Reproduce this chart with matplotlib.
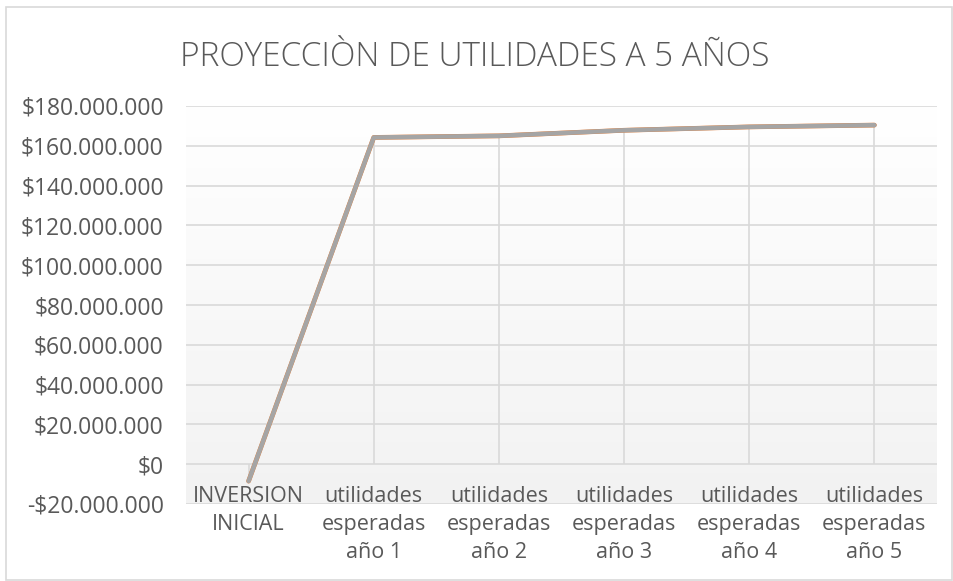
import numpy as np
import matplotlib
matplotlib.use("Agg")
import matplotlib.pyplot as plt
from matplotlib.patches import Rectangle
from matplotlib.ticker import FuncFormatter
import matplotlib.transforms as mtransforms

plt.rcParams['font.family'] = ['Open Sans', 'DejaVu Sans']

# datos del grafico
categorias = ["INVERSION\nINICIAL",
              "utilidades\nesperadas\naño 1",
              "utilidades\nesperadas\naño 2",
              "utilidades\nesperadas\naño 3",
              "utilidades\nesperadas\naño 4",
              "utilidades\nesperadas\naño 5"]
valores = [-8500000, 164200000, 165000000, 167800000, 169500000, 170400000]
yticks = list(range(-20000000, 180000001, 20000000))

TEXT = '#595959'
GRID = '#d9d9d9'


def pesos(v, pos=None):
    s = f"{abs(int(v)):,}".replace(",", ".")
    return ("-$" if v < 0 else "$") + s


fig = plt.figure(figsize=(9.54, 5.81), dpi=100)
fig.patch.set_facecolor('white')
fig.add_artist(Rectangle((6 / 954, 0.002), 946.5 / 954, 1 - 7 / 581 - 0.002,
                         transform=fig.transFigure, fill=False,
                         edgecolor=GRID, linewidth=1.2))

ax = fig.add_axes([186 / 954, 1 - 504 / 581, 751 / 954, 398 / 581])
x = np.arange(len(categorias))

ax.set_xlim(-0.5, len(categorias) - 0.5)
ax.set_ylim(yticks[0], yticks[-1])

# fondo degradado del area de trazado
grad = np.linspace(0, 1, 256).reshape(-1, 1)
cmap = matplotlib.colors.LinearSegmentedColormap.from_list('g', ['#f2f2f2', '#ffffff'])
ax.imshow(grad, extent=[-0.5, len(categorias) - 0.5, yticks[0], yticks[-1]],
          origin='lower', aspect='auto', cmap=cmap, zorder=0)

for t in yticks:
    ax.axhline(t, color=GRID, linewidth=1.2, zorder=1)

# lineas de caida desde cada punto hasta cero
ax.vlines(x, 0, valores, color=GRID, linewidth=1.2, zorder=1)

ax.plot(x, valores, color='#ed7d31', linewidth=3.4, zorder=2,
        solid_capstyle='round')
ax.plot(x, valores, color='#a5a5a5', linewidth=3.2, zorder=3,
        solid_capstyle='round')

for s in ax.spines.values():
    s.set_visible(False)

ax.set_yticks(yticks)
ax.yaxis.set_major_formatter(FuncFormatter(pesos))
ax.tick_params(axis='y', length=0, pad=16, labelsize=16.5, labelcolor=TEXT)
ax.set_xticks([])

trans = mtransforms.blended_transform_factory(ax.transData, ax.transAxes)
for i, lab in enumerate(categorias):
    ax.text(i, 0.045, lab, transform=trans, ha='center', va='top',
            fontsize=15.5, color=TEXT, linespacing=1.42, zorder=4)

fig.text(475 / 954, 1 - 57 / 581, "PROYECCIÒN DE UTILIDADES A 5 AÑOS",
         ha='center', va='center', fontsize=24, color=TEXT,
         fontweight='light')

fig.savefig("out.png", dpi=100)
